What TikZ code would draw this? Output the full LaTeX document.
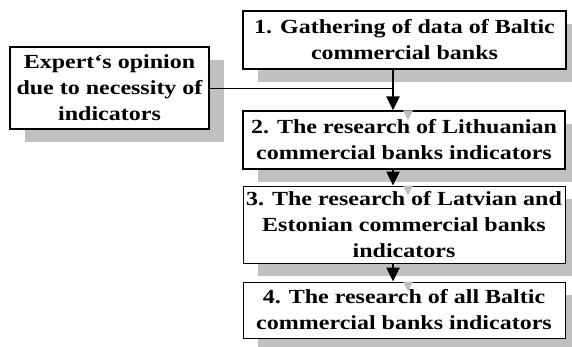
\documentclass[tikz,border=0pt]{standalone}
\usepackage{fontspec}
\setmainfont{Liberation Serif}[FakeStretch=1.2]
\usetikzlibrary{arrows.meta,shadows}
\definecolor{shgray}{RGB}{192,192,192}
\tikzset{
  box/.style={draw=black, fill=white, rectangle, inner sep=0pt, align=center,
    font=\bfseries\fontsize{20}{26}\selectfont,
    drop shadow={shadow xshift=15pt, shadow yshift=-13pt, fill=shgray, opacity=1, draw=none}},
  thickbox/.style={box, line width=2pt},
  thinbox/.style={box, line width=1pt},
  arr/.style={line width=2.5pt, -{Triangle[length=14pt,width=13pt]}},
  feed/.style={line width=1pt},
  tipshadow/.style={fill=shgray}
}
\begin{document}
\begin{tikzpicture}[x=1pt,y=-1pt]
\useasboundingbox (0,0) rectangle (572,346);
\clip (0,0) rectangle (572,346);
\node[thickbox, minimum width=199pt, minimum height=82pt] (ex) at (109.5,88)
  {Expert‘s opinion\\due to necessity of\\indicators};
\node[thickbox, minimum width=323pt, minimum height=58pt] (b1) at (404.5,40)
  {1. Gathering of data of Baltic\\commercial banks};
\node[box, line width=1.4pt, minimum width=322pt, minimum height=58pt] (b2) at (404,140)
  {2. The research of Lithuanian\\commercial banks indicators};
\node[thinbox, minimum width=322pt, minimum height=77pt] (b3) at (404,224.5)
  {3. The research of Latvian and\\Estonian commercial banks\\indicators};
\node[thinbox, minimum width=322pt, minimum height=56pt] (b4) at (404,310)
  {4. The research of all Baltic\\commercial banks indicators};
\coordinate (ax) at (393,0);
\coordinate (sx) at (408,0);
% arrowhead shadows
\fill[tipshadow] (b2.north -| sx) ++(-5,0) -- ++(10,0) -- ++(-5,10) -- cycle;
\fill[tipshadow] (b3.north -| sx) ++(-5,0) -- ++(10,0) -- ++(-5,10) -- cycle;
\fill[tipshadow] (b4.north -| sx) ++(-5,0) -- ++(10,0) -- ++(-5,10) -- cycle;
% connectors
\draw[feed] (ex.east) -- (ex.east -| ax);
\draw[arr] (b1.south -| ax) -- (b2.north -| ax);
\draw[arr] (b2.south -| ax) -- (b3.north -| ax);
\draw[arr] (b3.south -| ax) -- (b4.north -| ax);
\end{tikzpicture}
\end{document}
